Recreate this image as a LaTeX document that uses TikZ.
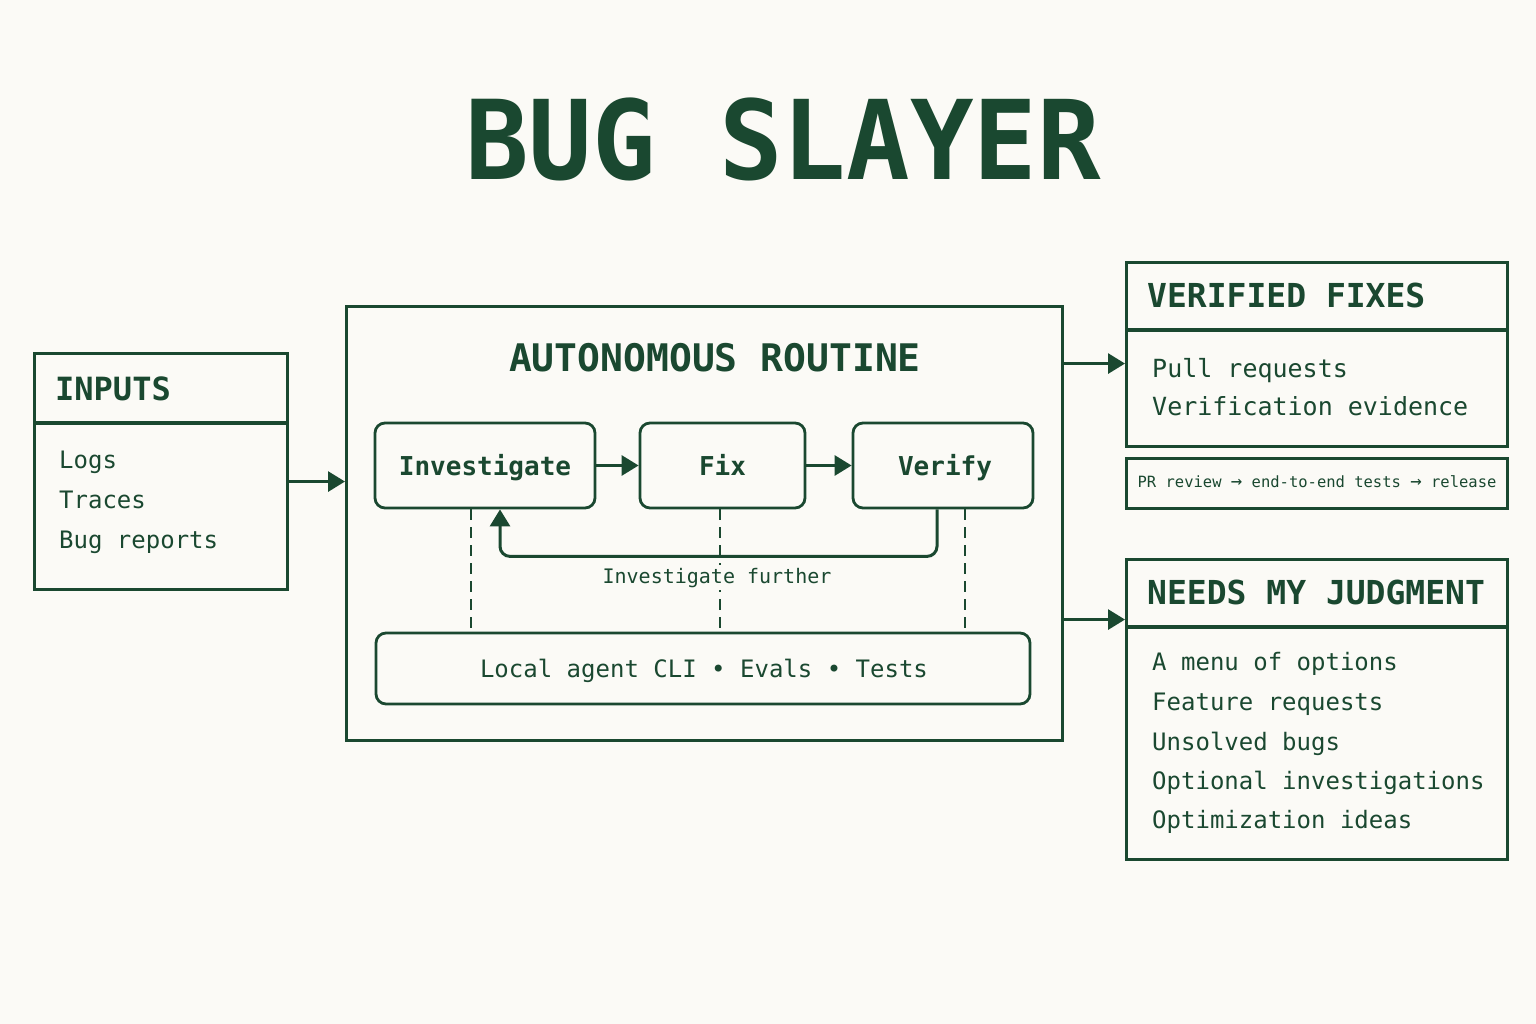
\documentclass[tikz,border=0pt]{standalone}
\usepackage{fontspec}
\setmonofont{DejaVu Sans Mono}
\setmainfont{DejaVu Sans Mono}
\usetikzlibrary{arrows.meta,calc}
\definecolor{ink}{RGB}{26,72,48}
\definecolor{bg}{RGB}{251,250,246}
\newcommand{\fsz}[1]{\fontsize{#1}{#1}\selectfont}
\newcommand{\rarr}{{\fsz{19}→}}
\tikzset{
  outerbox/.style={draw=ink, line width=3.1pt, rectangle, inner sep=0pt, anchor=north west},
  stepbox/.style={draw=ink, line width=2.8pt, rectangle, rounded corners=10pt, inner sep=0pt, text=ink, font=\fsz{26}\bfseries},
  arr/.style={draw=ink, line width=3pt, -{Triangle[length=17pt,width=20pt]}},
  dsh/.style={draw=ink, line width=2pt, dash pattern=on 11pt off 7pt},
  item/.style={anchor=base west, text=ink, inner sep=0pt, font=\fsz{24}},
  head/.style={anchor=base west, text=ink, inner sep=0pt, font=\fsz{33}\bfseries},
}
\begin{document}
\begin{tikzpicture}[x=1pt,y=-1pt]
\useasboundingbox[fill=bg] (0,0) rectangle (1536,1024);

% title
\node[text=ink, inner sep=0pt, anchor=base, font=\fsz{110}\bfseries, xscale=0.96, transform shape] (title) at (783,180) {BUG SLAYER};

% inputs
\node[outerbox, minimum width=253pt, minimum height=236pt] (inputs) at (33,352) {};
\draw[ink, line width=3.1pt] ([yshift=-71pt]inputs.north west) -- ([yshift=-71pt]inputs.north east);
\node[head, font=\fsz{32}\bfseries] (inh) at (55,400) {INPUTS};
\node[item] (i1) at (59,468) {Logs};
\node[item] (i2) at (59,508) {Traces};
\node[item] (i3) at (59,548) {Bug reports};

% main
\node[outerbox, minimum width=716pt, minimum height=434pt] (main) at (345,305) {};
\node[text=ink, inner sep=0pt, anchor=base, font=\fsz{38}\bfseries] (mainh) at (715,371) {AUTONOMOUS ROUTINE};

\node[stepbox, minimum width=220pt, minimum height=85pt] (inv) at (485,465.5) {};
\node[text=ink, font=\fsz{26}\bfseries, inner sep=0pt, anchor=base] (invt) at (485,475) {Investigate};
\node[stepbox, minimum width=165pt, minimum height=85pt] (fix) at (722.5,465.5) {};
\node[text=ink, font=\fsz{26}\bfseries, inner sep=0pt, anchor=base] (fixt) at (722.5,475) {Fix};
\node[stepbox, minimum width=180pt, minimum height=85pt] (ver) at (943,465.5) {};
\node[text=ink, font=\fsz{26}\bfseries, inner sep=0pt, anchor=base] (vert) at (945,475) {Verify};

\node[stepbox, minimum width=654pt, minimum height=71pt] (tools) at (703,668.5) {};
\node[text=ink, font=\fsz{24}, inner sep=0pt, anchor=base] (toolst) at (704,677) {Local agent CLI • Evals • Tests};

% dashed links
\draw[dsh] ([xshift=-14pt]inv.south) -- ([xshift=-14pt]inv.south |- tools.north);
\draw[dsh] ([xshift=-2.5pt]fix.south) -- ([xshift=-2.5pt]fix.south |- tools.north);
\draw[dsh] ([xshift=22pt]ver.south) -- ([xshift=22pt]ver.south |- tools.north);

% step arrows
\draw[arr] (inv.east) -- (fix.west);
\draw[arr] (fix.east) -- (ver.west);

% feedback loop
\draw[arr, rounded corners=10pt] ([xshift=-6pt]ver.south) -- ++(0,47) -| ([xshift=15pt]inv.south);
\node[text=ink, font=\fsz{20}, fill=bg, inner sep=3pt, anchor=base] (fb) at (717,583) {Investigate further};

% inputs -> main
\path ([yshift=-10pt]inputs.east) coordinate (inout);
\draw[arr] (inout) -- (inout -| main.west);

% verified fixes
\node[outerbox, minimum width=381pt, minimum height=184pt] (vf) at (1125,261) {};
\draw[ink, line width=3.1pt] ([yshift=-69pt]vf.north west) -- ([yshift=-69pt]vf.north east);
\node[head] (vfh) at (1147,307) {VERIFIED FIXES};
\node[item, font=\fsz{25}] (v1) at (1152,377) {Pull requests};
\node[item, font=\fsz{25}] (v2) at (1152,415) {Verification evidence};

\node[outerbox, line width=2.6pt, minimum width=381pt, minimum height=50pt] (pr) at (1125,457) {};
\node[text=ink, font=\fsz{15.5}, inner sep=0pt, anchor=base] (prt) at (1317,487) {PR review \rarr{} end-to-end tests \rarr{} release};

% needs my judgment
\node[outerbox, minimum width=381pt, minimum height=300pt] (nj) at (1125,558) {};
\draw[ink, line width=3.1pt] ([yshift=-69pt]nj.north west) -- ([yshift=-69pt]nj.north east);
\node[head] (njh) at (1147,604) {NEEDS MY JUDGMENT};
\node[item] (n1) at (1152,670) {A menu of options};
\node[item] (n2) at (1152,710) {Feature requests};
\node[item] (n3) at (1152,750) {Unsolved bugs};
\node[item] (n4) at (1152,789) {Optional investigations};
\node[item] (n5) at (1152,828) {Optimization ideas};

% main -> outputs
\path ([yshift=-9pt]vf.west) coordinate (vfin);
\draw[arr] (main.east |- vfin) -- (vfin);
\path ([yshift=90pt]nj.west) coordinate (njin);
\draw[arr] (main.east |- njin) -- (njin);
\end{tikzpicture}
\end{document}
